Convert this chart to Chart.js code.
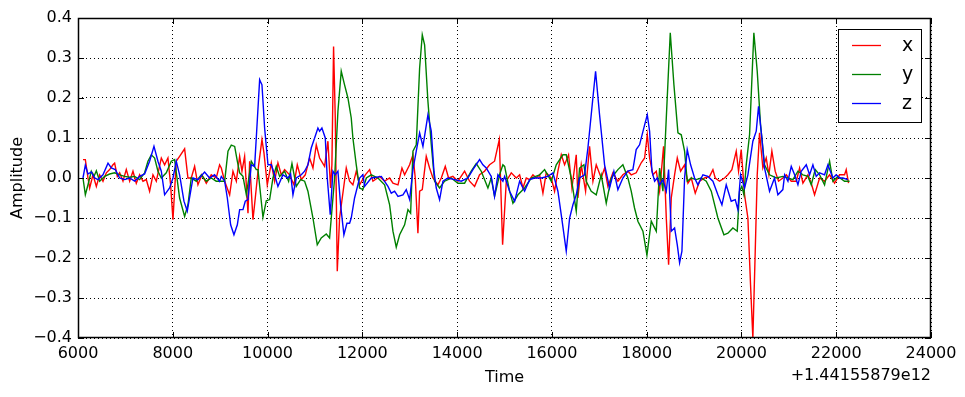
<!DOCTYPE html>
<html>
<head>
<meta charset="utf-8">
<script src="https://cdn.jsdelivr.net/npm/chart.js@4/dist/chart.umd.min.js"></script>
<style>
  html, body { margin: 0; background: #fff; }
  canvas { display: block; }
</style>
</head>
<body>
<canvas id="chart" width="965" height="397"></canvas>
<script>
// accelerometer samples, time is offset from 1.44155879e12 ms
const xTime = [6105, 6155, 6211, 6246, 6316, 6387, 6457, 6527, 6598, 6668,
  6738, 6773, 6830, 6879, 6949, 7019, 7090, 7160, 7230, 7301,
  7371, 7441, 7511, 7582, 7652, 7758, 7828, 7898, 7954, 8004,
  8074, 8144, 8250, 8320, 8390, 8461, 8531, 8615, 8707, 8812,
  8917, 8988, 9024, 9095, 9200, 9270, 9341, 9411, 9460, 9516,
  9587, 9622, 9692, 9741, 9812, 9882, 9924, 9994, 10079, 10149,
  10219, 10290, 10360, 10465, 10557, 10627, 10712, 10796, 10887, 10958,
  11028, 11098, 11204, 11274, 11330, 11358, 11393, 11429, 11471, 11520,
  11576, 11661, 11731, 11801, 11872, 11942, 12063, 12154, 12224, 12365,
  12470, 12576, 12646, 12752, 12836, 12892, 12998, 13068, 13117, 13173,
  13209, 13265, 13349, 13419, 13490, 13595, 13666, 13750, 13820, 13911,
  14017, 14158, 14263, 14369, 14474, 14579, 14685, 14790, 14890, 14960,
  15038, 15143, 15249, 15319, 15389, 15460, 15530, 15600, 15670, 15741,
  15811, 15881, 15987, 16057, 16127, 16198, 16268, 16352, 16423, 16514,
  16549, 16620, 16711, 16795, 16866, 16936, 17041, 17112, 17182, 17287,
  17393, 17498, 17604, 17674, 17779, 17885, 17957, 18013, 18062, 18132,
  18203, 18273, 18357, 18414, 18463, 18519, 18589, 18646, 18716, 18800,
  18871, 18941, 19025, 19117, 19222, 19328, 19398, 19447, 19538, 19644,
  19714, 19798, 19890, 19939, 19995, 20066, 20136, 20192, 20241, 20291,
  20333, 20382, 20452, 20523, 20579, 20642, 20712, 20783, 20874, 20946,
  21051, 21157, 21227, 21297, 21403, 21473, 21543, 21649, 21754, 21860,
  21965, 22071, 22176, 22211, 22260];
const xVals = [0.046, 0.046, 0, -0.025, 0.008, -0.021, 0.008, -0.008, 0.013, 0.021,
  0.033, 0.037, 0.004, 0.013, -0.008, 0.021, -0.008, 0.017, -0.013, 0.008,
  -0.008, -0.004, -0.033, 0.008, -0.008, 0.05, 0.033, 0.05, -0.017, -0.104,
  0.042, 0.054, 0.073, 0, 0, 0.029, -0.017, 0.008, -0.013, 0.008,
  0, 0.033, 0.025, -0.008, -0.042, 0.017, -0.008, 0.054, 0.017, 0.054,
  -0.088, 0.042, -0.104, -0.05, 0.033, 0.096, 0.063, -0.017, 0.038, -0.008,
  0.038, 0.008, 0.021, 0.008, -0.017, 0.033, -0.004, 0.008, 0.05, 0.025,
  0.083, 0.05, 0.029, 0.092, -0.025, 0.033, 0.329, 0.15, -0.233, -0.1,
  -0.05, 0.025, -0.008, -0.017, 0.017, -0.017, 0.008, 0.021, -0.008, 0.004,
  -0.008, 0, -0.013, -0.017, 0.025, 0.008, 0.033, 0.058, 0, -0.138,
  -0.033, -0.029, 0.054, 0.025, 0, -0.017, 0, 0.029, 0, 0.004,
  -0.008, 0.017, -0.008, -0.021, 0.008, 0.017, 0.033, 0.042, 0.096, -0.167,
  -0.008, 0.013, 0, 0.008, -0.025, 0, -0.004, 0.008, 0, 0.008,
  -0.038, 0.013, 0, -0.033, 0.017, 0.058, 0.033, 0.058, -0.025, 0.058,
  -0.05, 0.033, -0.033, 0.079, -0.008, 0.033, 0, 0.025, -0.021, 0.013,
  -0.008, 0.008, 0.017, 0.008, 0.013, 0.038, 0.05, 0.108, 0.05, 0.008,
  0.017, -0.033, 0.079, -0.1, -0.217, -0.05, 0.008, 0.05, 0.017, 0.033,
  -0.013, 0, -0.038, -0.008, 0, 0.004, 0.021, 0, -0.008, 0,
  0.008, 0.021, 0.067, 0.017, 0.071, -0.042, -0.1, -0.267, -0.4, -0.183,
  0.008, 0.113, 0.025, 0.05, 0.008, 0.067, 0.017, -0.008, 0, 0.008,
  -0.008, -0.008, 0.025, -0.013, 0.008, -0.013, -0.042, 0, -0.008, 0.008,
  -0.013, 0.008, 0.008, 0.021, -0.013];

const yTime = [6105, 6155, 6211, 6281, 6337, 6387, 6457, 6562, 6668, 6773,
  6879, 6984, 7090, 7195, 7301, 7406, 7476, 7547, 7617, 7687,
  7758, 7863, 7968, 8039, 8144, 8250, 8320, 8390, 8496, 8601,
  8707, 8812, 8917, 8989, 9095, 9165, 9235, 9306, 9362, 9411,
  9481, 9552, 9657, 9762, 9798, 9903, 9973, 10044, 10114, 10184,
  10255, 10360, 10444, 10515, 10606, 10697, 10782, 10852, 10958, 11049,
  11133, 11239, 11309, 11415, 11485, 11555, 11625, 11696, 11766, 11801,
  11872, 11942, 12012, 12084, 12189, 12330, 12470, 12576, 12646, 12716,
  12787, 12892, 12963, 13019, 13068, 13138, 13209, 13265, 13314, 13384,
  13455, 13525, 13630, 13736, 13876, 14017, 14158, 14298, 14404, 14509,
  14650, 14720, 14790, 14896, 14966, 15003, 15108, 15178, 15284, 15424,
  15565, 15741, 15846, 15987, 16092, 16233, 16303, 16409, 16514, 16584,
  16676, 16725, 16830, 16936, 17041, 17147, 17252, 17393, 17498, 17604,
  17674, 17744, 17815, 17921, 18006, 18097, 18203, 18273, 18343,
  18414, 18498, 18575, 18660, 18730, 18800, 18856, 18941, 19046, 19152,
  19257, 19363, 19503, 19630, 19714, 19820, 19911, 19960, 20009, 20052,
  20101, 20171, 20262, 20333, 20403, 20487, 20593, 20733, 20874, 20981,
  21086, 21192, 21297, 21403, 21473, 21557, 21649, 21754, 21860, 21930,
  22035, 22176, 22282];
const yVals = [0, -0.042, -0.017, 0.017, 0.004, 0.018, -0.008, 0.004, 0.01, 0.013,
  0.008, 0.004, 0.002, 0.004, -0.004, 0.013, 0.042, 0.058, 0.05, 0.017,
  0, 0.013, 0.042, 0.046, -0.05, -0.096, -0.067, 0, -0.008, 0.008,
  -0.008, 0, -0.008, -0.008, -0.008, 0.067, 0.082, 0.079, 0.042, 0.013,
  0.004, -0.042, 0.042, 0.021, 0.021, -0.098, -0.057, -0.054, 0, 0.029,
  0.004, 0.017, -0.008, 0.036, -0.021, -0.004, -0.008, -0.033, -0.1, -0.167,
  -0.15, -0.14, -0.15, 0, 0.167, 0.267, 0.233, 0.2, 0.15, 0.1,
  0.033, -0.025, -0.029, 0, 0.008, 0, -0.017, -0.067, -0.133, -0.173,
  -0.142, -0.117, -0.079, -0.088, 0.067, 0.083, 0.275, 0.358, 0.333, 0.192,
  0.083, -0.008, -0.025, -0.008, 0, -0.013, -0.013, 0.017, 0.036, 0.017,
  -0.025, 0, -0.046, 0.008, 0.033, 0.029, -0.033, -0.063, -0.042, -0.025,
  0, 0.008, 0.021, -0.008, 0.033, 0.058, 0.058, 0, -0.083, 0.025,
  0.033, -0.008, -0.033, -0.042, 0.008, -0.063, 0, 0.021, 0.033, 0,
  -0.033, -0.075, -0.108, -0.133, -0.193, -0.108, -0.133, 0.025, -0.033,
  0.15, 0.363, 0.233, 0.113, 0.108, 0.067, -0.008, 0, -0.004, 0,
  -0.008, -0.033, -0.1, -0.142, -0.138, -0.125, -0.133, -0.033, -0.021, -0.042,
  0.033, 0.108, 0.363, 0.267, 0.133, 0.033, 0.008, 0, 0.004, 0,
  -0.004, 0.017, 0.008, 0.004, -0.017, 0.021, 0.008, -0.017, 0.042, -0.008,
  0.004, -0.008, -0.008];

const zTime = [6105, 6155, 6211, 6281, 6352, 6422, 6527, 6633, 6703, 6787,
  6879, 6984, 7090, 7195, 7301, 7406, 7511, 7603, 7687, 7758,
  7828, 7933, 8004, 8074, 8144, 8236, 8306, 8426, 8531, 8671,
  8777, 8882, 8988, 9024, 9095, 9151, 9221, 9291, 9362, 9411,
  9481, 9530, 9587, 9657, 9727, 9762, 9833, 9882, 9938, 10009,
  10079, 10149, 10219, 10325, 10430, 10487, 10536, 10606, 10712, 10782,
  10852, 10922, 10993, 11063, 11098, 11147, 11218, 11260, 11323, 11379,
  11429, 11485, 11541, 11611, 11675, 11731, 11766, 11836, 11942, 12012,
  12049, 12189, 12400, 12541, 12611, 12681, 12752, 12857, 12927, 12998,
  13068, 13138, 13209, 13279, 13384, 13455, 13511, 13560, 13630, 13701,
  13806, 13947, 14087, 14228, 14333, 14474, 14544, 14615, 14720, 14790,
  14861, 14966, 15003, 15108, 15214, 15319, 15424, 15530, 15635, 15776,
  15917, 16022, 16127, 16198, 16303, 16374, 16444, 16514, 16584, 16690,
  16760, 16851, 16922, 17006, 17112, 17217, 17308, 17393, 17498, 17604,
  17709, 17779, 17850, 17957, 18013, 18062, 18111, 18168, 18224, 18273,
  18343, 18414, 18463, 18519, 18589, 18646, 18695, 18744, 18800, 18856,
  18927, 19011, 19081, 19187, 19292, 19398, 19503, 19588, 19679, 19784,
  19869, 19925, 19981, 20066, 20136, 20241, 20312, 20361, 20431, 20487,
  20593, 20698, 20769, 20874, 20911, 20981, 21051, 21122, 21192, 21262,
  21368, 21438, 21508, 21578, 21649, 21754, 21825, 21930, 22000, 22071,
  22141, 22246];
const zVals = [0, 0.032, 0.01, 0.015, 0, -0.004, 0.008, 0.037, 0.025, 0.021,
  0, -0.004, 0, -0.008, 0.004, 0.01, 0.042, 0.079, 0.042, 0.017,
  -0.042, -0.025, 0, 0.042, 0.008, -0.058, -0.083, 0, -0.004, 0.015,
  0, 0.008, -0.008, 0.004, -0.008, -0.05, -0.117, -0.142, -0.117, -0.079,
  -0.079, -0.058, -0.054, 0.033, 0.029, 0.1, 0.246, 0.233, 0.125, 0.033,
  0.033, 0.008, -0.021, 0.008, 0, 0.01, -0.042, 0, 0.008, 0.017,
  0.033, 0.075, 0.1, 0.125, 0.117, 0.125, 0.1, 0, -0.092, 0.017,
  0.008, 0.017, -0.067, -0.142, -0.113, -0.113, -0.1, -0.05, 0, 0.008,
  -0.021, 0, 0.004, -0.021, -0.038, -0.033, -0.046, -0.042, -0.029, -0.054,
  0.021, 0.067, 0.113, 0.079, 0.158, 0.117, 0.017, -0.025, -0.054, -0.008,
  0, -0.004, -0.008, 0, 0.021, 0.046, 0.033, 0.025, 0.004, -0.046,
  0.008, -0.008, 0.004, -0.033, -0.058, -0.008, -0.033, -0.004, 0, 0,
  0.004, 0.013, -0.033, -0.092, -0.183, -0.1, -0.067, -0.042, 0, 0.008,
  0.075, 0.183, 0.267, 0.158, 0.033, -0.025, 0.017, -0.029, 0, 0.017,
  0.021, 0.071, 0.083, 0.133, 0.158, 0.117, 0.017, -0.008, 0, -0.017,
  -0.004, -0.033, 0.021, -0.133, -0.125, -0.167, -0.212, -0.183, 0, 0.071,
  0.033, 0, -0.017, 0.008, 0.004, -0.008, -0.042, -0.067, -0.017, -0.058,
  -0.054, -0.079, 0.008, -0.025, 0.008, 0.092, 0.117, 0.179, 0.1, 0.025,
  -0.033, 0, -0.042, -0.029, 0.008, -0.008, 0.029, 0.008, -0.017, 0.017,
  0.033, 0.008, 0.033, 0.004, 0.013, 0.008, 0.033, 0, 0.008, 0,
  0, -0.004];

const seriesNames = ['x', 'y', 'z'];
const seriesColors = ['#ff0000', '#008000', '#0000ff'];
const timeOffsetLabel = '+1.44155879e12';
const xAxisTitle = 'Time';
const yAxisTitle = 'Amplitude';

const pts = (t, v) => t.map((tt, i) => ({ x: tt, y: v[i] }));
const minus = s => s.replace('-', '\u2212');

// matplotlib-ish frame, inward ticks, axis labels and legend box
const mplDecor = {
  id: 'mplDecor',
  afterDraw(chart) {
    const { ctx, chartArea: a, scales } = chart;
    ctx.save();
    ctx.strokeStyle = '#000';
    ctx.lineWidth = 1;
    ctx.beginPath();
    scales.x.ticks.forEach(t => {
      const p = Math.round(scales.x.getPixelForValue(t.value)) + 0.5;
      ctx.moveTo(p, a.bottom); ctx.lineTo(p, a.bottom - 6);
      ctx.moveTo(p, a.top); ctx.lineTo(p, a.top + 6);
    });
    scales.y.ticks.forEach(t => {
      const p = Math.round(scales.y.getPixelForValue(t.value)) + 0.5;
      ctx.moveTo(a.left, p); ctx.lineTo(a.left + 6, p);
      ctx.moveTo(a.right, p); ctx.lineTo(a.right - 6, p);
    });
    ctx.stroke();
    ctx.lineWidth = 1.5;
    ctx.strokeRect(a.left + 0.5, a.top + 0.5, a.width - 1, a.height - 1);

    ctx.fillStyle = '#000';
    ctx.font = '16px "DejaVu Sans"';
    ctx.textBaseline = 'middle';
    ctx.textAlign = 'center';
    ctx.fillText(xAxisTitle, (a.left + a.right) / 2, 378);
    ctx.textAlign = 'right';
    ctx.fillText(timeOffsetLabel, a.right, 376);
    ctx.save();
    ctx.translate(18, (a.top + a.bottom) / 2);
    ctx.rotate(-Math.PI / 2);
    ctx.textAlign = 'center';
    ctx.fillText(yAxisTitle, 0, 0);
    ctx.restore();

    // legend
    ctx.lineWidth = 1;
    ctx.fillStyle = '#fff';
    ctx.fillRect(838.5, 29.5, 83, 93);
    ctx.strokeRect(838.5, 29.5, 83, 93);
    ctx.font = '19px "DejaVu Sans"';
    ctx.textAlign = 'left';
    ctx.textBaseline = 'alphabetic';
    chart.data.datasets.forEach((ds, i) => {
      const yy = 45.5 + i * 29;
      ctx.strokeStyle = ds.borderColor;
      ctx.lineWidth = 1.3;
      ctx.beginPath();
      ctx.moveTo(852, yy); ctx.lineTo(881, yy);
      ctx.stroke();
      ctx.fillStyle = '#000';
      ctx.fillText(ds.label, 902, 51 + i * 29);
    });
    ctx.restore();
  }
};

new Chart(document.getElementById('chart'), {
  type: 'line',
  data: {
    datasets: [
      { label: seriesNames[0], data: pts(xTime, xVals), borderColor: seriesColors[0], order: 3 },
      { label: seriesNames[1], data: pts(yTime, yVals), borderColor: seriesColors[1], order: 2 },
      { label: seriesNames[2], data: pts(zTime, zVals), borderColor: seriesColors[2], order: 1 }
    ]
  },
  options: {
    responsive: false,
    animation: false,
    devicePixelRatio: 1,
    layout: { padding: { left: 0, top: 18, right: 34, bottom: 0 } },
    elements: {
      line: { borderWidth: 1.4, tension: 0, fill: false },
      point: { radius: 0 }
    },
    plugins: { legend: { display: false }, tooltip: { enabled: false } },
    scales: {
      x: {
        type: 'linear',
        min: 6000,
        max: 24000,
        afterFit: s => { s.height = 59; },
        grid: { color: '#000', lineWidth: 1, drawTicks: false },
        border: { display: false, dash: [1, 3] },
        ticks: {
          stepSize: 2000,
          padding: 6,
          color: '#000',
          font: { family: 'DejaVu Sans', size: 16 },
          maxRotation: 0,
          callback: v => String(v)
        }
      },
      y: {
        min: -0.4,
        max: 0.4,
        afterFit: s => { s.width = 78; },
        grid: { color: '#000', lineWidth: 1, drawTicks: false },
        border: { display: false, dash: [1, 3] },
        ticks: {
          stepSize: 0.1,
          padding: 6,
          color: '#000',
          font: { family: 'DejaVu Sans', size: 16 },
          callback: v => minus((Math.round(v * 10) / 10).toFixed(1))
        }
      }
    }
  },
  plugins: [mplDecor]
});
</script>
</body>
</html>
